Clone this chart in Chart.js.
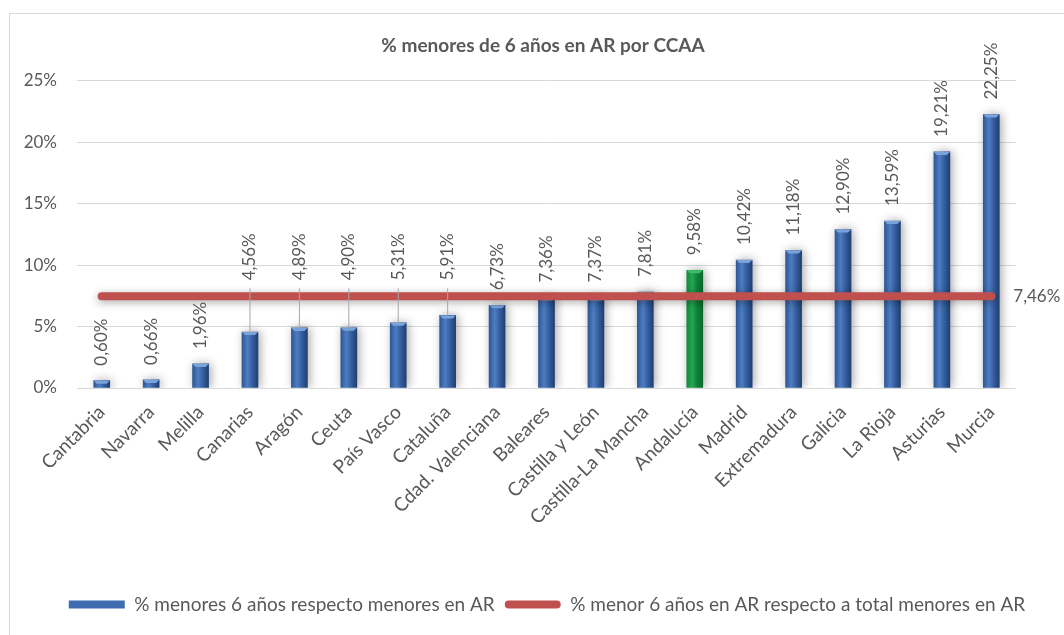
<!DOCTYPE html>
<html>
<head>
<meta charset="utf-8">
<script src="https://cdn.jsdelivr.net/npm/chart.js@4.4.1/dist/chart.umd.min.js"></script>
<style>
  html, body { margin: 0; padding: 0; background: #fff; }
  #wrap { position: relative; width: 1064px; height: 635px; overflow: hidden; }
  #marco { position: absolute; left: 9px; top: 13px; width: 1100px; height: 700px; border: 1px solid #D9D9D9; }
  #caja { position: absolute; left: 0; top: 0; width: 1064px; height: 635px; }
</style>
</head>
<body>
<div id="wrap">
  <div id="marco"></div>
  <div id="caja"><canvas id="myChart"></canvas></div>
</div>
<script>
// datos
const comunidades = ['Cantabria', 'Navarra', 'Melilla', 'Canarias', 'Aragón', 'Ceuta', 'País Vasco', 'Cataluña',
  'Cdad. Valenciana', 'Baleares', 'Castilla y León', 'Castilla-La Mancha', 'Andalucía', 'Madrid',
  'Extremadura', 'Galicia', 'La Rioja', 'Asturias', 'Murcia'];
const porcentajes = [0.60, 0.66, 1.96, 4.56, 4.89, 4.90, 5.31, 5.91, 6.73, 7.36, 7.37, 7.81, 9.58, 10.42,
  11.18, 12.90, 13.59, 19.21, 22.25];
const mediaTotal = 7.46;
const mediaSerie = comunidades.map(() => mediaTotal);
const destacada = 'Andalucía';

const gris = '#595959';
const fuente = 'Lato, "Open Sans", sans-serif';

function fmt(v) {
    return v.toFixed(2).replace('.', ',') + '%';
}

function colorBarra(context) {
    const chart = context.chart;
    if (!chart.chartArea || context.type !== 'data') return '#3F6BAF';
    const x = chart.scales.x.getPixelForValue(context.dataIndex);
    const g = chart.ctx.createLinearGradient(x - 8, 0, x + 8, 0);
    if (comunidades[context.dataIndex] === destacada) {
        g.addColorStop(0, '#138A3E');
        g.addColorStop(0.35, '#22A84F');
        g.addColorStop(0.65, '#0F8038');
        g.addColorStop(1, '#0A6A2C');
    } else {
        g.addColorStop(0, '#2E5896');
        g.addColorStop(0.35, '#4D7DC2');
        g.addColorStop(0.65, '#355E9E');
        g.addColorStop(1, '#1F3F72');
    }
    return g;
}

// sombras de barras y linea
const sombras = {
    id: 'sombras',
    beforeDraw(chart) {
        // titulo y leyenda del original quedan un poco a la derecha
        [[chart.legend, 15], [chart.titleBlock, 11]].forEach(([caja, dx]) => {
            if (caja && !caja._movida) {
                caja.left += dx;
                caja.right += dx;
                caja._movida = true;
            }
        });
    },
    beforeDatasetDraw(chart, args) {
        const ctx = chart.ctx;
        ctx.save();
        if (args.index === 0) {
            ctx.shadowColor = 'rgba(0,0,0,0.35)';
            ctx.shadowBlur = 10;
            ctx.shadowOffsetX = 2;
        } else {
            ctx.shadowColor = 'rgba(0,0,0,0.35)';
            ctx.shadowBlur = 8;
            ctx.shadowOffsetY = 2;
        }
    },
    afterDatasetDraw(chart, args) {
        const ctx = chart.ctx;
        ctx.restore();
        if (args.index !== 0) return;
        // remate claro arriba de cada barra
        ctx.save();
        args.meta.data.forEach((bar, i) => {
            const m = bar.width / 2;
            ctx.fillStyle = comunidades[i] === destacada ? '#3DBE6A' : '#7BA3DB';
            ctx.beginPath();
            ctx.moveTo(bar.x - m, bar.y);
            ctx.lineTo(bar.x + m, bar.y);
            ctx.lineTo(bar.x + m - 3, bar.y + 3);
            ctx.lineTo(bar.x - m + 3, bar.y + 3);
            ctx.closePath();
            ctx.fill();
        });
        ctx.restore();
    }
};

// etiquetas de valores
const etiquetas = {
    id: 'etiquetas',
    afterDatasetsDraw(chart) {
        const ctx = chart.ctx;
        const barras = chart.getDatasetMeta(0).data;
        const lineaY = chart.scales.y.getPixelForValue(mediaTotal);
        ctx.save();
        ctx.font = '17px ' + fuente;
        ctx.fillStyle = gris;
        ctx.textBaseline = 'middle';
        ctx.textAlign = 'left';
        barras.forEach((bar, i) => {
            const txt = fmt(porcentajes[i]);
            const w = ctx.measureText(txt).width;
            let base = bar.y - 15;
            if (base > lineaY - 5 && base - w < lineaY + 5) {
                const nueva = lineaY - 16;
                ctx.strokeStyle = '#A6A6A6';
                ctx.lineWidth = 1;
                ctx.beginPath();
                ctx.moveTo(bar.x, nueva + 8);
                ctx.lineTo(bar.x, bar.y);
                ctx.stroke();
                base = nueva;
            }
            ctx.save();
            ctx.translate(bar.x, base);
            ctx.rotate(-Math.PI / 2);
            ctx.fillText(txt, 0, 0);
            ctx.restore();
        });
        const puntos = chart.getDatasetMeta(1).data;
        const ultimo = puntos[puntos.length - 1];
        ctx.fillText(fmt(mediaTotal), ultimo.x + 22, ultimo.y);
        ctx.restore();
    }
};

function veGrafico() {
    const ctx = document.getElementById('myChart').getContext('2d');
    new Chart(ctx, {
        type: 'bar',
        data: {
            labels: comunidades,
            datasets: [{
                type: 'bar',
                label: '% menores 6 años respecto menores en AR',
                data: porcentajes,
                backgroundColor: colorBarra,
                barThickness: 16,
                order: 1
            }, {
                type: 'line',
                label: '% menor 6 años en AR respecto a total menores en AR',
                data: mediaSerie,
                borderColor: '#C0504D',
                backgroundColor: '#C0504D',
                borderWidth: 8,
                borderCapStyle: 'round',
                pointRadius: 0,
                fill: false,
                order: 0
            }]
        },
        options: {
            responsive: true,
            maintainAspectRatio: false,
            animation: false,
            layout: { padding: { left: 0, right: 0, top: 0, bottom: 11 } },
            scales: {
                x: {
                    grid: { display: false },
                    border: { display: false },
                    ticks: {
                        color: gris,
                        font: { family: fuente, size: 19 },
                        minRotation: 45,
                        maxRotation: 45,
                        padding: 5,
                        autoSkip: false
                    },
                    afterFit: function(scale) { scale.height = 197; }
                },
                y: {
                    min: 0,
                    max: 25,
                    border: { display: false },
                    grid: { color: '#D9D9D9', drawTicks: false },
                    ticks: {
                        stepSize: 5,
                        color: gris,
                        padding: 20,
                        font: { family: fuente, size: 17 },
                        callback: function(value) { return value + '%'; }
                    },
                    afterFit: function(scale) { scale.width = 77; }
                },
                derecha: {
                    position: 'right',
                    grid: { display: false },
                    border: { display: false },
                    ticks: { display: false },
                    afterFit: function(scale) { scale.width = 48; }
                }
            },
            plugins: {
                title: {
                    display: true,
                    text: '% menores de 6 años en AR por CCAA',
                    color: gris,
                    font: { family: fuente, size: 19, weight: 'bold' },
                    padding: { top: 34, bottom: 24 }
                },
                legend: {
                    position: 'bottom',
                    labels: {
                        color: gris,
                        font: { family: fuente, size: 19 },
                        boxWidth: 56,
                        boxHeight: 8,
                        padding: 10,
                        useBorderRadius: true,
                        sort: function(a, b) { return a.datasetIndex - b.datasetIndex; },
                        generateLabels: function(chart) {
                            const items = Chart.defaults.plugins.legend.labels.generateLabels(chart);
                            items.forEach(it => {
                                it.lineWidth = 0;
                                if (it.datasetIndex === 0) {
                                    it.fillStyle = '#3F6BAF';
                                    it.borderRadius = 0;
                                } else {
                                    it.fillStyle = '#C0504D';
                                    it.borderRadius = 4;
                                }
                            });
                            return items;
                        }
                    }
                },
                tooltip: { enabled: false }
            }
        },
        plugins: [sombras, etiquetas]
    });
}

veGrafico();
</script>
</body>
</html>
